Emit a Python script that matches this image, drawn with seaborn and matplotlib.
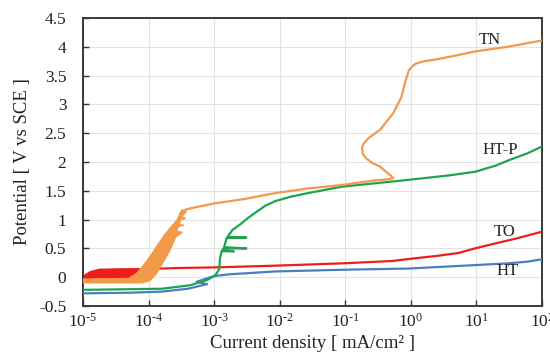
import numpy as np
import pandas as pd
import matplotlib
matplotlib.use("Agg")
import matplotlib.pyplot as plt
import seaborn as sns

# ---------------- data ----------------
# TN (orange) noisy band outline
tn_band_x = [1.0e-5, 8.0e-5, 1.05e-4, 1.3e-4, 1.6e-4, 2.14e-4, 2.6e-4, 3.3e-4, 2.7e-4, 2.85e-4, 3.5e-4,
             2.95e-4, 3.1e-4, 3.7e-4, 3.2e-4, 3.8e-4, 3.2e-4, 2.7e-4, 2.1e-4, 1.66e-4, 1.3e-4, 1.05e-4,
             8.0e-5, 6.6e-5, 5.0e-5, 1.0e-5]
tn_band_y = [-0.10, -0.10, -0.06, 0.05, 0.22, 0.47, 0.70, 0.78, 0.80, 0.88, 0.90,
             0.92, 1.00, 1.02, 1.05, 1.14, 1.17, 0.99, 0.85, 0.70, 0.52, 0.36,
             0.18, 0.07, -0.02, -0.03]
# TN main curve
tn_x = [3.0e-4, 3.4e-4, 3.8e-4, 4.6e-4, 5.5e-4, 1e-3, 3e-3, 8.5e-3, 2.7e-2, 8.7e-2, 0.28, 0.45, 0.54,
        0.5, 0.45, 0.34, 0.26, 0.21, 0.185, 0.18, 0.19, 0.23, 0.34, 0.54, 0.72, 0.81, 0.88, 0.93,
        1.05, 1.2, 1.6, 2.4, 4.5, 9.5, 30, 100]
tn_y = [1.10, 1.15, 1.18, 1.20, 1.22, 1.28, 1.36, 1.46, 1.54, 1.60, 1.68, 1.70, 1.72,
        1.76, 1.80, 1.92, 1.98, 2.06, 2.14, 2.24, 2.32, 2.42, 2.56, 2.85, 3.13, 3.37, 3.50, 3.59,
        3.66, 3.71, 3.75, 3.78, 3.84, 3.92, 4.00, 4.11]

# TO (red) noisy band outline
to_band_x = [1.0e-5, 1.0e-5, 1.3e-5, 1.8e-5, 6.6e-5, 1.1e-4, 8.0e-5, 5.0e-5, 1.0e-5]
to_band_y = [-0.05, 0.02, 0.10, 0.14, 0.15, 0.13, 0.00, -0.05, -0.05]
# TO main curve
to_x = [1.1e-4, 3e-4, 1e-3, 8.5e-3, 8.7e-2, 0.5, 1.0, 2.5, 5.3, 9.5, 20, 40, 100]
to_y = [0.145, 0.16, 0.17, 0.20, 0.24, 0.28, 0.32, 0.37, 0.42, 0.50, 0.59, 0.67, 0.79]

# HT (blue)
ht_x = [1e-5, 5e-5, 1.6e-4, 4e-4, 7.8e-4, 5.4e-4, 1.0e-3, 1.7e-3, 8.5e-3, 0.1, 0.91, 9.5, 30, 60, 100]
ht_y = [-0.28, -0.27, -0.25, -0.20, -0.12, -0.08, 0.02, 0.05, 0.10, 0.13, 0.15, 0.21, 0.24, 0.27, 0.31]

# HT-P (green)
htp_x = [1e-5, 1.6e-4, 4.3e-4, 7.8e-4, 1.0e-3, 1.1e-3, 1.2e-3, 1.23e-3, 1.3e-3, 2.0e-3, 1.32e-3, 1.4e-3,
         3.1e-3, 1.42e-3, 1.55e-3, 3.1e-3, 1.6e-3, 1.9e-3, 2.45e-3, 3.3e-3, 4.5e-3, 6e-3, 8.5e-3, 1.5e-2,
         2.7e-2, 8.7e-2, 0.91, 1.6, 4.0, 9.5, 20, 31, 60, 100]
htp_y = [-0.22, -0.20, -0.14, -0.05, 0.02, 0.07, 0.15, 0.33, 0.45, 0.45, 0.47, 0.50,
         0.50, 0.52, 0.68, 0.69, 0.70, 0.82, 0.91, 1.03, 1.14, 1.24, 1.32, 1.40,
         1.46, 1.57, 1.69, 1.72, 1.77, 1.83, 1.94, 2.03, 2.15, 2.27]

x_ticks = [1e-5, 1e-4, 1e-3, 1e-2, 1e-1, 1e0, 1e1, 1e2]
x_tick_labels = ["10$^{\u20105}$", "10$^{\u20104}$", "10$^{\u20103}$", "10$^{\u20102}$",
                 "10$^{\u20101}$", "10$^{0}$", "10$^{1}$", "10$^{2}$"]
y_ticks = [-0.5, 0, 0.5, 1, 1.5, 2, 2.5, 3, 3.5, 4, 4.5]
y_tick_labels = ["-0.5", "0", "0.5", "1", "1.5", "2", "2.5", "3", "3.5", "4", "4.5"]

labels = ["TN", "HT-P", "TO", "HT"]
label_x = [16, 23, 27, 30]
label_y = [4.12, 2.21, 0.78, 0.11]

c_orange = "#F39A4A"
c_red = "#EE1C1C"
c_blue = "#4A7EC2"
c_green = "#1EA450"

# ---------------- plot ----------------
sns.set_theme(style="whitegrid")
plt.rcParams["font.family"] = ["Liberation Serif", "DejaVu Serif"]
plt.rcParams["mathtext.fontset"] = "custom"
plt.rcParams["mathtext.rm"] = "Liberation Serif"
plt.rcParams["mathtext.it"] = "Liberation Serif:italic"
plt.rcParams["mathtext.bf"] = "Liberation Serif:bold"

fig = plt.figure(figsize=(5.5, 3.55), dpi=100)
ax = fig.add_axes([83 / 550, 49 / 355, (542 - 83) / 550, (306 - 18) / 355])
ax.set_xscale("log")

# red first (orange overlays it)
ax.fill(to_band_x, to_band_y, color=c_red, lw=0.8, ec=c_red, zorder=2)
sns.lineplot(data=pd.DataFrame({"x": to_x, "y": to_y}), x="x", y="y", sort=False,
             estimator=None, color=c_red, lw=1.6, ax=ax, zorder=3)
sns.lineplot(data=pd.DataFrame({"x": ht_x, "y": ht_y}), x="x", y="y", sort=False,
             estimator=None, color=c_blue, lw=1.6, ax=ax, zorder=3)
sns.lineplot(data=pd.DataFrame({"x": htp_x, "y": htp_y}), x="x", y="y", sort=False,
             estimator=None, color=c_green, lw=1.6, ax=ax, zorder=4)
ax.fill(tn_band_x, tn_band_y, color=c_orange, lw=0.8, ec=c_orange, zorder=5)
sns.lineplot(data=pd.DataFrame({"x": tn_x, "y": tn_y}), x="x", y="y", sort=False,
             estimator=None, color=c_orange, lw=1.6, ax=ax, zorder=5)

for t, lx, ly in zip(labels, label_x, label_y):
    ax.text(lx, ly, t, ha="center", va="center", fontsize=12, color="#222222")

ax.set_xlim(1e-5, 1e2)
ax.set_ylim(-0.5, 4.5)
ax.set_xticks(x_ticks)
ax.set_xticklabels(x_tick_labels)
ax.xaxis.set_minor_locator(matplotlib.ticker.NullLocator())
ax.set_yticks(y_ticks)
ax.set_yticklabels(y_tick_labels)
ax.tick_params(axis="both", which="major", direction="in", length=4, width=1,
               color="#333333", labelsize=12.5, labelcolor="#222222",
               left=True, bottom=True)
ax.tick_params(axis="y", pad=12)
ax.tick_params(axis="x", pad=5)
ax.grid(True, color="#E3E3E3", lw=0.8)
for s in ax.spines.values():
    s.set_color("#3A3A3A")
    s.set_linewidth(1.4)
ax.set_xlabel("Current density [ mA/cm² ]", fontsize=13.5, color="#222222", labelpad=3)
ax.set_ylabel("Potential [ V vs SCE ]", fontsize=13.5, color="#222222", labelpad=6)

fig.savefig("out.png", dpi=100)
